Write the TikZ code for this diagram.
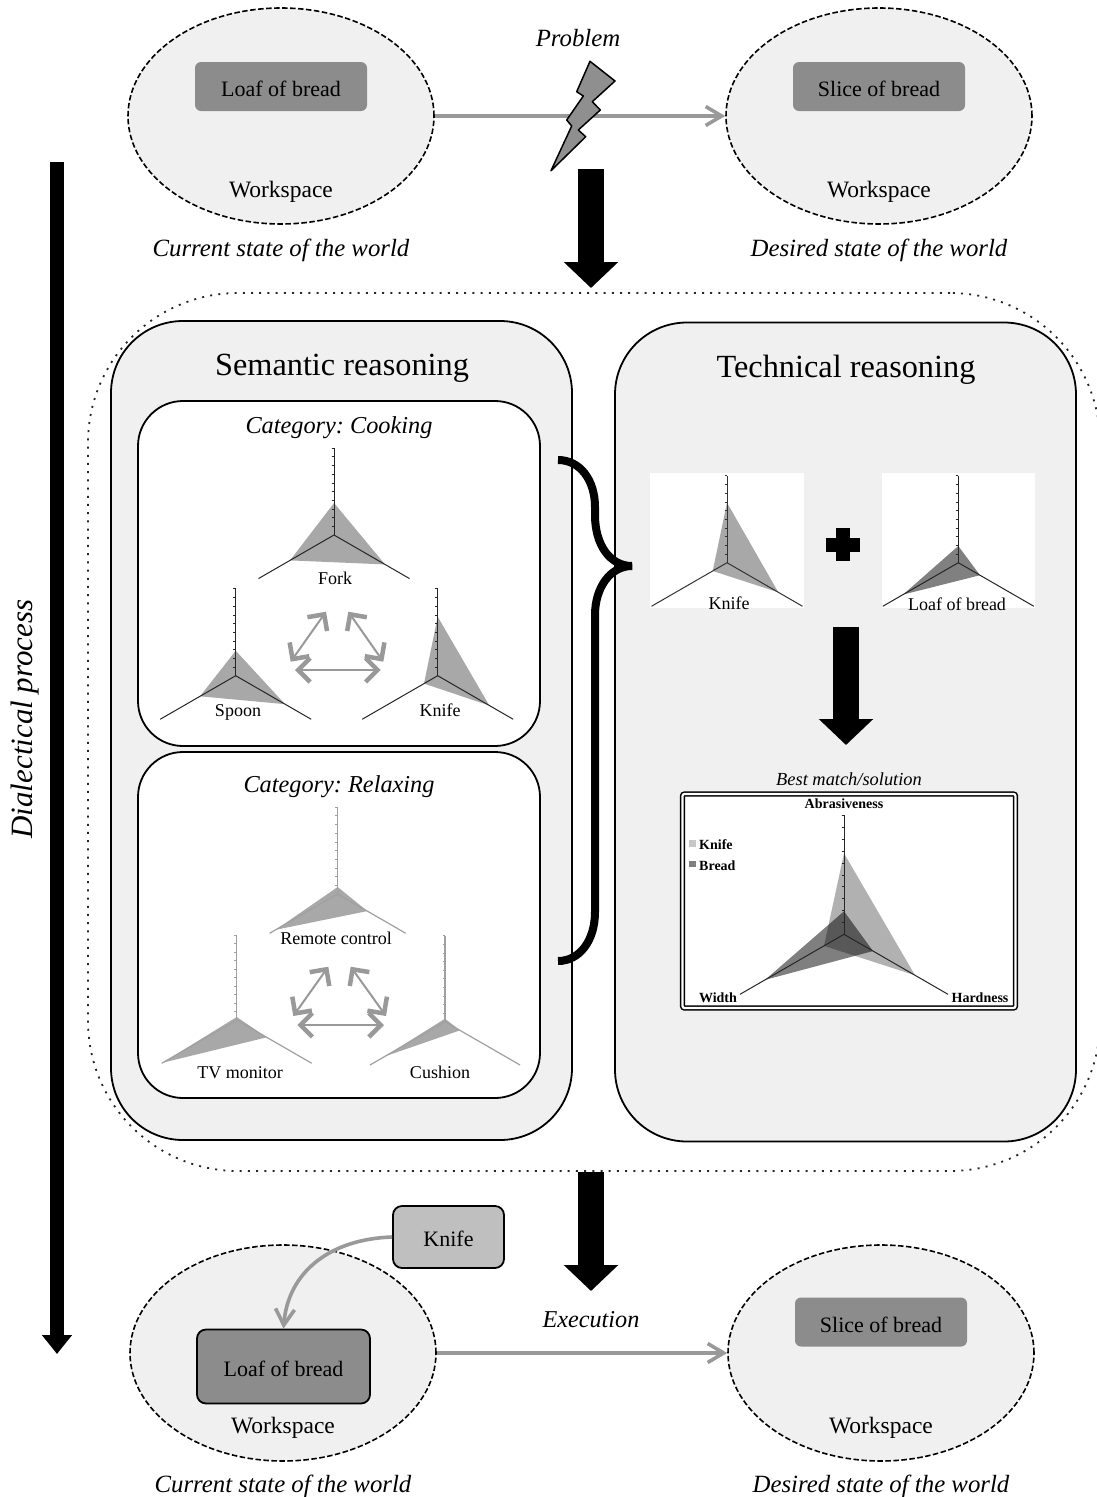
\documentclass[tikz,border=0pt]{standalone}
\usepackage{fontspec}
\setmainfont{Liberation Serif}
\usepackage{tikz}
\usetikzlibrary{arrows.meta,shapes.geometric}
\def\radaraxes[#1](#2,#3)(#4:#5){%
	\draw[#1] (#2,#3)--(#2,#3-#4);
	\draw[#1] (#2,#3)--(#2+#5,#3+0.577*#5);
	\draw[#1] (#2,#3)--(#2-#5,#3+0.577*#5);
	\foreach \t in {1,...,10} \draw[#1,line width=0.5pt] (#2-2.5,#3-\t*#4/10)--(#2,#3-\t*#4/10);
}
\def\radarfill[#1](#2,#3)(#4:#5:#6){\fill[#1] (#2,#3-#4)--(#2+#5,#3+0.577*#5)--(#2-#6,#3+0.577*#6)--cycle;}
\def\fsize#1{\fontsize{#1}{#1}\selectfont\frenchspacing}
\tikzset{
	workspace/.style={ellipse,draw,fill=panelgray,dashed,dash pattern=on 5.5pt off 2.5pt,line width=1.6pt,minimum width=306pt,minimum height=216pt,inner sep=0pt},
	objectbox/.style={rectangle,rounded corners=6pt,fill=boxgray,minimum width=172pt,minimum height=49pt,inner sep=0pt,font=\fsize{22}},
	handbox/.style={rectangle,rounded corners=9pt,draw,line width=1.8pt,inner sep=0pt,font=\fsize{22}},
	panel/.style={rectangle,draw,fill=panelgray,rounded corners=72pt,line width=1.8pt,minimum width=461pt,minimum height=819pt,inner sep=0pt},
	catpanel/.style={rectangle,draw,fill=white,rounded corners=45pt,line width=1.8pt,minimum width=402pt,minimum height=345pt,inner sep=0pt},
	plain/.style={font=\fsize{23.5},inner sep=0pt},
	stateline/.style={font=\fsize{24.8}\itshape,inner sep=0pt},
	panelhead/.style={font=\fsize{32.3},inner sep=0pt},
	cathead/.style={font=\fsize{24.3}\itshape,inner sep=0pt},
	radarname/.style={font=\fsize{18},inner sep=0pt},
	boldname/.style={font=\fsize{14}\bfseries,inner sep=0pt},
	grayarrow/.style={->,>={Straight Barb[length=16pt,width=19pt]},draw=arrowgray,line width=3.6pt},
	twoway/.style={<->,>={Straight Barb[length=12pt,width=24pt,line width=4.5pt]},draw=arrowgray,line width=2pt},
	fatarrow/.style={-{Triangle[length=26pt,width=53pt]},line width=26pt},
}
\definecolor{panelgray}{HTML}{F0F0F0}
\definecolor{boxgray}{HTML}{8C8C8C}
\definecolor{arrowgray}{HTML}{999999}
\definecolor{shapegray}{HTML}{A8A8A8}
\definecolor{axisgray}{HTML}{A0A0A0}
\begin{document}
\begin{tikzpicture}[x=1pt,y=-1pt]
	\useasboundingbox (0,0) rectangle (1097,1497);
	
	%OUTER FRAME
	\node[rectangle,draw=black!85,rounded corners=150pt,dash pattern=on 2pt off 6.2pt,line width=1.8pt,minimum width=1012pt,minimum height=878pt] (frame) at (594,732) {};
	
	%TOP ROW
	\node[workspace] (currenttop) at (281,116) {};
	\node[workspace] (desiredtop) at (879,116) {};
	\node[objectbox] (loaftop) at (281,86.5) {};
	\node[objectbox] (slicetop) at (879,86.5) {};
	\node[font=\fsize{22},inner sep=0pt] (loaftoptext) at (281,89) {Loaf of bread};
	\node[font=\fsize{22},inner sep=0pt] (slicetoptext) at (879,89) {Slice of bread};
	\node[plain] (wstopl) at (281,192) {Workspace};
	\node[plain] (wstopr) at (879,192) {Workspace};
	\node[stateline] (statetopl) at (281,250) {Current state of the world};
	\node[stateline] (statetopr) at (879,250) {Desired state of the world};
	\draw[grayarrow] (currenttop)--(desiredtop);
	\node[font=\fsize{24.8}\itshape,inner sep=0pt] (problem) at (578,38) {Problem};
	\draw[fill=shapegray!85!black,line width=1.5pt,line join=round] (590,61.3)--(615,81)--(592.3,101.7)--(600.3,110)--(578.3,130)--(585.7,136.7)--(551,170.7)--(571.7,126)--(566.7,120)--(583.3,96)--(576.7,91.7)--cycle;
	\coordinate (downa) at (591,169);
	\coordinate (downb) at (591,288);
	\draw[fatarrow] (downa)--(downb);
	
	%SIDE ARROW
	\coordinate (sidea) at (57,162);
	\coordinate (sideb) at (57,1354);
	\draw[-{Triangle[length=19pt,width=29pt]},line width=14pt] (sidea)--(sideb);
	\node[font=\fsize{31}\itshape,rotate=90,inner sep=0pt] (dialectic) at (25,719) {Dialectical process};
	
	%PANELS
	\node[panel] (semantic) at (341.5,730.5) {};
	\node[panel] (technical) at (845.5,732) {};
	\node[panelhead] (semantichead) at (342,368) {Semantic reasoning};
	\node[panelhead] (technicalhead) at (846,370) {Technical reasoning};
	\node[catpanel] (cooking) at (339,573.5) {};
	\node[catpanel,minimum height=346pt] (relaxing) at (339,925) {};
	\node[cathead] (cookinghead) at (339,428) {Category: Cooking};
	\node[cathead] (relaxinghead) at (339,787) {Category: Relaxing};
	
	%COOKING RADARS
	\radarfill[shapegray](334,535)(32:51:44)
	\radaraxes[black!85,line width=1pt](334,535)(87:75.5)
	\radarfill[shapegray](235.7,675.7)(25:49.3:35.7)
	\radaraxes[black!85,line width=1pt](235.7,675.7)(87:75.5)
	\radarfill[shapegray](437.7,675.7)(59:51.6:13.7)
	\radaraxes[black!85,line width=1pt](437.7,675.7)(87:75.5)
	\node[radarname] (forkname) at (335,578) {Fork};
	\node[radarname] (spoonname) at (238,712) {Spoon};
	\node[radarname] (knifename) at (440,710) {Knife};
	%
	\coordinate (ca) at (326,611.7);
	\coordinate (cb) at (290.7,661.7);
	\coordinate (cc) at (348.3,611.7);
	\coordinate (cd) at (383.3,661.7);
	\coordinate (ce) at (295,670);
	\coordinate (cf) at (380.7,670);
	\draw[twoway] (ca)--(cb);
	\draw[twoway] (cc)--(cd);
	\draw[twoway] (ce)--(cf);
	
	%RELAXING RADARS
	\radarfill[shapegray](337.7,894)(7:29.6:62)
	\radaraxes[axisgray,line width=1.2pt](337.7,894)(87:68)
	\radarfill[shapegray](236.7,1020)(3:30:74)
	\radaraxes[axisgray,line width=1.2pt](236.7,1020)(85:75)
	\radarfill[shapegray](445,1021.7)(3:15:60)
	\radaraxes[axisgray,line width=1.2pt](445,1021.7)(86:75)
	\node[radarname] (remotename) at (336,938) {Remote control};
	\node[radarname] (tvname) at (240,1073) {TV monitor};
	\node[radarname] (cushionname) at (440,1072) {Cushion};
	%
	\coordinate (ra) at (328.3,966.7);
	\coordinate (rb) at (293.3,1016);
	\coordinate (rc) at (350.7,966.7);
	\coordinate (rd) at (386,1016);
	\coordinate (re) at (297.3,1025);
	\coordinate (rf) at (384,1025);
	\draw[twoway] (ra)--(rb);
	\draw[twoway] (rc)--(rd);
	\draw[twoway] (re)--(rf);
	
	%BRACE
	\draw[line width=8pt] (558,460) .. controls (580,460) and (595,480) .. (595,507)--(595,515) .. controls (595,545) and (610,566) .. (632,566) .. controls (610,566) and (595,588) .. (595,615)--(595,912) .. controls (595,940) and (580,961) .. (558,961);
	
	%TECHNICAL SIDE
	\node[rectangle,fill=white,minimum width=154pt,minimum height=134.7pt,inner sep=0pt] (knifecard) at (727,540.3) {};
	\node[rectangle,fill=white,minimum width=153.3pt,minimum height=134.7pt,inner sep=0pt] (loafcard) at (958.3,540.3) {};
	\radarfill[shapegray](727,562.7)(60:51.3:14.3)
	\radaraxes[black!80,line width=1pt](727,562.7)(87:75.5)
	\radarfill[black!50](958.3,562.7)(16.7:21.7:55.3)
	\radaraxes[black!85,line width=1pt](958.3,562.7)(87:75.5)
	\node[radarname] (knifecardname) at (729,603) {Knife};
	\node[radarname] (loafcardname) at (957,604) {Loaf of bread};
	%
	\draw[line width=14pt] (825.7,544.5)--(860.3,544.5);
	\draw[line width=14pt] (843,528)--(843,561);
	%
	\coordinate (mergea) at (846,627);
	\coordinate (mergeb) at (846,745);
	\draw[fatarrow] (mergea)--(mergeb);
	%
	\node[font=\fsize{18.4}\itshape,inner sep=0pt] (besthead) at (849,779) {Best match/solution};
	\node[rectangle,draw,fill=white,double,double distance=2.2pt,rounded corners=2pt,line width=1.5pt,minimum width=333pt,minimum height=214pt,inner sep=0pt] (bestbox) at (849,901) {};
	\radarfill[fill=shapegray!90](844,934.3)(81:71:20)
	\radarfill[fill=black,fill opacity=.5](844,934.3)(23:29:79)
	\radaraxes[black!85,line width=1pt](844,934.3)(119:104)
	\node[boldname] (axisa) at (844,804) {Abrasiveness};
	\node[boldname] (axisb) at (718,998) {Width};
	\node[boldname] (axisc) at (980,998) {Hardness};
	\node[boldname,anchor=west] (legknife) at (699,845) {Knife};
	\node[boldname,anchor=west] (legbread) at (699,866) {Bread};
	\node[rectangle,fill=black!22,minimum size=6.5pt,inner sep=0pt] (swatchknife) at (692.5,843.5) {};
	\node[rectangle,fill=black!50,minimum size=6.5pt,inner sep=0pt] (swatchbread) at (692.5,864) {};
	
	%BOTTOM ROW
	\coordinate (downc) at (591,1172);
	\coordinate (downd) at (591,1291);
	\draw[fatarrow] (downc)--(downd);
	\node[workspace] (currentlow) at (283,1353) {};
	\node[workspace] (desiredlow) at (881,1353) {};
	\node[objectbox] (slicelow) at (881,1322) {};
	\node[font=\fsize{22},inner sep=0pt] (slicelowtext) at (881,1324.5) {Slice of bread};
	\node[handbox,fill=boxgray,minimum width=173pt,minimum height=74pt] (loaflow) at (283.5,1366.5) {};
	\node[font=\fsize{22},inner sep=0pt] (loaflowtext) at (283.5,1368.5) {Loaf of bread};
	\node[handbox,fill=black!25,minimum width=111pt,minimum height=62pt] (knifetool) at (448.5,1237) {};
	\node[font=\fsize{22},inner sep=0pt] (knifetooltext) at (448.5,1239) {Knife};
	\node[plain] (wslowl) at (283,1428) {Workspace};
	\node[plain] (wslowr) at (881,1428) {Workspace};
	\node[stateline] (statelowl) at (283,1486) {Current state of the world};
	\node[stateline] (statelowr) at (881,1486) {Desired state of the world};
	\node[font=\fsize{24.2}\itshape,inner sep=0pt] (execution) at (591,1320) {Execution};
	\draw[grayarrow] (currentlow)--(desiredlow);
	\draw[grayarrow] (knifetool.west) .. controls (330,1239) and (288,1272) .. (loaflow.north);
\end{tikzpicture}
\end{document}
